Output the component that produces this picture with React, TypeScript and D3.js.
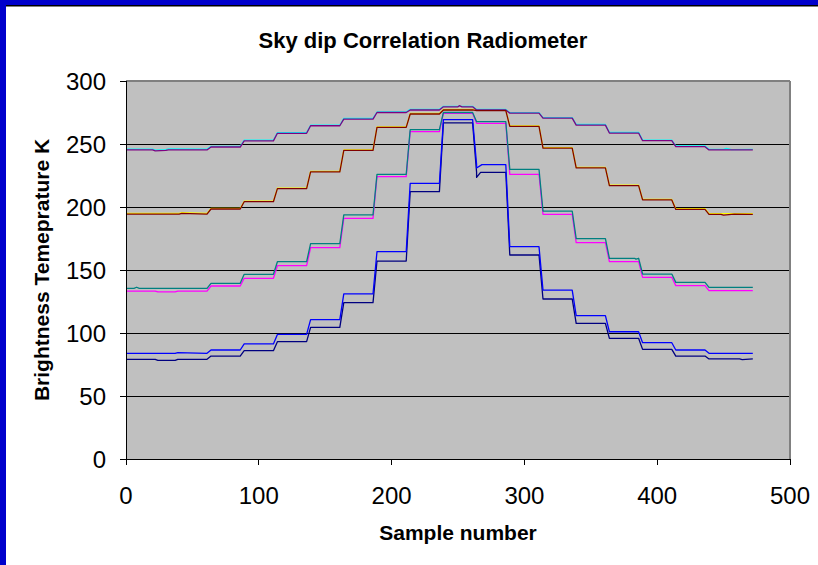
import React from 'react';
import * as d3 from 'd3';

const TITLE = 'Sky dip Correlation Radiometer';
const X_TITLE = 'Sample number';
const Y_TITLE = 'Brightness Temeprature K';
const X_TICKS = [0, 100, 200, 300, 400, 500];
const Y_TICKS = [0, 50, 100, 150, 200, 250, 300];

// sample index where each step (transition) begins
const STEP_STARTS = [61, 86, 111, 136, 161, 186, 211, 236, 261, 286, 311, 336, 361, 386, 411, 436];
const LAST_SAMPLE = 472;

// plateau levels (K), one per step of the sky dip
const navy = [79.1, 81.7, 86.0, 93.1, 104.5, 124.1, 157.1, 212.2, 266.7, 227.5, 161.9, 127.0, 107.7, 95.8, 87.0, 81.7, 79.4];
const magenta = [133.3, 137.3, 143.4, 153.4, 167.7, 191.0, 224.1, 259.8, 274.3, 266.4, 225.9, 194.2, 171.7, 156.6, 144.2, 137.6, 133.6];
const yellow = [194.9, 198.9, 204.6, 215.0, 228.2, 245.4, 263.6, 274.2, 277.4, 276.9, 264.4, 247.2, 231.4, 217.4, 206.0, 198.6, 194.7];
const cyan = [246.0, 248.1, 253.0, 259.0, 264.9, 270.3, 275.4, 277.5, 279.9, 277.4, 274.9, 271.0, 265.5, 259.2, 253.1, 248.4, 245.8];
const purple = [245.3, 247.6, 252.5, 258.5, 264.5, 269.8, 275.0, 277.0, 279.5, 277.0, 274.5, 270.5, 265.0, 258.7, 252.6, 247.9, 245.3];
const maroon = [194.4, 198.4, 204.2, 214.6, 227.8, 245.0, 263.2, 273.8, 277.0, 276.5, 264.0, 246.8, 231.0, 217.0, 205.6, 198.1, 194.2];
const teal = [135.4, 139.4, 146.6, 156.6, 170.9, 193.7, 225.9, 261.4, 275.0, 267.7, 229.9, 196.8, 174.9, 159.3, 146.8, 140.2, 136.2];
const blue = [83.9, 86.5, 91.3, 98.9, 110.6, 131.0, 164.6, 218.8, 269.3, 233.6, 168.5, 134.1, 113.8, 101.0, 92.3, 86.5, 83.9];

// small wiggles / transients: [sample, K]
const navyExtra: [number, number][] = [[22, 79.0], [24, 78.2], [37, 78.2], [39, 79.1], [264, 223.5], [267, 227.5], [462, 79.4], [464, 78.8]];
const magentaExtra: [number, number][] = [[22, 133.3], [24, 132.6], [37, 132.6], [39, 133.3]];
const yellowExtra: [number, number][] = [[40, 194.9], [42, 195.6]];
const cyanExtra: [number, number][] = [[20, 246.0], [22, 245.2], [30, 245.6], [32, 246.2], [450, 245.8], [452, 246.6], [456, 245.5]];
const purpleExtra: [number, number][] = [[20, 245.3], [22, 244.5], [30, 245.0], [32, 245.4], [250, 279.5], [251, 280.4], [253, 279.5]];
const maroonExtra: [number, number][] = [[40, 194.4], [42, 195.0], [448, 194.2], [450, 193.5], [458, 194.3]];
const tealExtra: [number, number][] = [[6, 135.4], [8, 136.3], [10, 135.4], [383, 159.3], [384, 158.6]];
const blueExtra: [number, number][] = [[37, 83.9], [39, 84.5], [264, 231.0], [268, 233.6]];

const SERIES = [navy, magenta, yellow, cyan, purple, maroon, teal, blue];
const EXTRAS = [navyExtra, magentaExtra, yellowExtra, cyanExtra, purpleExtra, maroonExtra, tealExtra, blueExtra];
const COLORS = ['#000080', '#FF00FF', '#FFFF00', '#00FFFF', '#800080', '#800000', '#008080', '#0000FF'];

const W = 818;
const H = 565;
const PL = 126, PR = 790, PT = 81, PB = 459;
const FONT = "'Liberation Sans', Arial, Helvetica, sans-serif";

function vertices(levels: number[], extra: [number, number][]): [number, number][] {
  const pts: [number, number][] = [];
  levels.forEach((lv, k) => {
    const start = k === 0 ? 0 : STEP_STARTS[k - 1] + 3;
    const end = k === levels.length - 1 ? LAST_SAMPLE : STEP_STARTS[k];
    pts.push([start, lv]);
    pts.push([end, lv]);
  });
  const all = pts.concat(extra);
  all.sort((a, b) => a[0] - b[0]);
  return all;
}

export default function App() {
  const x = d3.scaleLinear().domain([0, 500]).range([PL, PR]);
  const y = d3.scaleLinear().domain([0, 300]).range([PB, PT]);
  const line = d3.line<[number, number]>().x(d => x(d[0])).y(d => y(d[1]));

  return (
    <svg width={W} height={H} style={{ position: 'absolute', left: 0, top: 0, display: 'block', background: '#fff' }}>
      <rect x={0} y={0} width={W} height={H} fill="#ffffff" />
      {/* slide frame */}
      <rect x={0} y={0} width={W} height={5} fill="#0000CC" />
      <rect x={0} y={5} width={W} height={1.5} fill="#000000" />
      <rect x={0} y={0} width={6} height={H} fill="#0000CC" />

      <text x={423} y={48} textAnchor="middle" fontFamily={FONT} fontWeight="bold" fontSize={22}>{TITLE}</text>

      {/* plot area */}
      <rect x={PL} y={PT} width={PR - PL} height={PB - PT} fill="#C0C0C0" />
      {Y_TICKS.filter(t => t > 0 && t < 300).map(t => (
        <line key={'g' + t} x1={PL} x2={PR} y1={y(t)} y2={y(t)} stroke="#000" strokeWidth={1} shapeRendering="crispEdges" />
      ))}
      <line x1={PL} x2={PR} y1={PT} y2={PT} stroke="#808080" strokeWidth={1.5} shapeRendering="crispEdges" />
      <line x1={PR} x2={PR} y1={PT} y2={PB} stroke="#808080" strokeWidth={1.5} shapeRendering="crispEdges" />

      <defs>
        <clipPath id="plotclip">
          <rect x={PL} y={PT} width={PR - PL} height={PB - PT} />
        </clipPath>
      </defs>
      <g clipPath="url(#plotclip)">
        {SERIES.map((s, i) => (
          <path key={i} d={line(vertices(s, EXTRAS[i])) || ''} fill="none" stroke={COLORS[i]} strokeWidth={1.3} strokeLinejoin="round" />
        ))}
      </g>

      {/* axes */}
      <line x1={PL} x2={PL} y1={PT} y2={PB + 6} stroke="#000" strokeWidth={1} shapeRendering="crispEdges" />
      <line x1={PL - 6} x2={PR} y1={PB} y2={PB} stroke="#000" strokeWidth={1} shapeRendering="crispEdges" />
      {Y_TICKS.map(t => (
        <g key={'y' + t}>
          <line x1={PL - 6} x2={PL} y1={y(t)} y2={y(t)} stroke="#000" strokeWidth={1} shapeRendering="crispEdges" />
          <text x={106} y={y(t) + 8.5} textAnchor="end" fontFamily={FONT} fontSize={24}>{t}</text>
        </g>
      ))}
      {X_TICKS.map(t => (
        <g key={'x' + t}>
          <line x1={x(t)} x2={x(t)} y1={PB} y2={PB + 6} stroke="#000" strokeWidth={1} shapeRendering="crispEdges" />
          <text x={x(t)} y={504} textAnchor="middle" fontFamily={FONT} fontSize={24}>{t}</text>
        </g>
      ))}

      <text x={458} y={540} textAnchor="middle" fontFamily={FONT} fontWeight="bold" fontSize={21}>{X_TITLE}</text>
      <text transform={`translate(49,270) rotate(-90)`} textAnchor="middle" fontFamily={FONT} fontWeight="bold" fontSize={21}>{Y_TITLE}</text>
    </svg>
  );
}
